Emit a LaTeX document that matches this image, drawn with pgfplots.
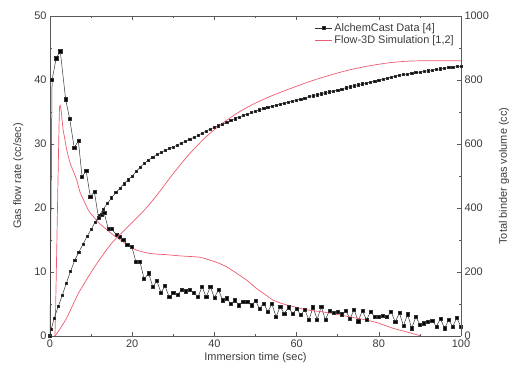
\documentclass[border=0pt]{standalone}
\usepackage{fontspec}
\setmainfont{Liberation Sans}
\usepackage{pgfplots}
\pgfplotsset{compat=1.18}
\definecolor{simred}{RGB}{240,90,110}
\definecolor{axgray}{RGB}{90,90,90}
\definecolor{txtgray}{RGB}{60,60,60}
\begin{document}
\begin{tikzpicture}
\pgfplotsset{
  every axis/.append style={
    scale only axis, width=411bp, height=320bp,
    xmin=0, xmax=100,
    axis line style={axgray, line width=0.6pt},
    tick style={axgray, line width=0.5pt},
    major tick length=4pt, minor tick length=2.5pt,
    tick align=inside,
    /pgf/number format/assume math mode=true,
    /pgf/number format/1000 sep={},
    tick label style={font=\fontsize{11}{13}\selectfont, text=txtgray},
    label style={font=\fontsize{11}{13}\selectfont, text=txtgray},
  }
}
\begin{axis}[
  at={(0,0)}, anchor=south west,
  ymin=0, ymax=50,
  axis y line*=left,
  xtick={0,20,40,60,80,100}, minor xtick={10,30,50,70,90},
  ytick={0,10,20,30,40,50}, minor ytick={5,15,25,35,45},
  xtick pos=both,
  xlabel={Immersion time (sec)},
  ylabel={Gas flow rate (cc/sec)},
  xlabel style={yshift=2pt},
  ylabel style={yshift=4pt},
  legend style={at={(0.995,0.99)}, anchor=north east, draw=none, fill=none,
    font=\fontsize{11}{13}\selectfont, text=txtgray, row sep=-1pt},
  legend cell align=left,
]
\addplot[black!80, line width=0.5pt, mark=square*, mark size=1.6pt, mark options={fill=black}] coordinates {
(0,0) (0.5,40) (1.5,43.4) (2.5,44.5) (3.8,37) (4.8,33.9) (5.9,29.4) (6.9,30.5) (7.8,24.9) (8.8,25.8)
(9.8,21.8) (10.8,22.5) (11.8,18.5) (12.5,19.0) (13.2,19.2) (14.2,16.7) (15.0,16.7) (16.2,15.8) (17,15.5)
(17.8,15.0) (18.8,14.3) (19.9,14.0) (20.9,11.6) (21.9,11.6) (22.9,8.9) (24,9.8) (25,7.7) (26,8.6) (27,6.8)
(28,7.8) (29,6.1) (30,6.7) (31,6.4) (32,7.2) (33,7.0) (34,7.2) (35,6.8) (36,6.1) (37,7.7) (38,6.1) (39,7.7)
(40,6.0) (41,7.2) (42,5.6) (43,5.9) (44,5.0) (45,5.6) (46,4.8) (47,5.4) (48,5.3) (49,4.8) (50,5.5) (51,4.3)
(52,5.1) (53,3.8) (54,5.0) (55,3.0) (56,4.6) (57,3.5) (58,4.5) (59,3.5) (60,4.2) (61,3.3) (62,4.1) (63,2.5)
(64,4.5) (65,2.6) (66,4.6) (67,2.5) (68,4.0) (69,3.6) (70,3.8) (71,3.4) (72,3.9) (73,2.7) (74,4.1) (75,2.3)
(76,4.0) (77,2.5) (78,3.8) (79,3.0) (80,3.0) (81,3.2) (82,3.0) (83,3.8) (84,2.2) (85,3.6) (86,1.6) (87,3.4)
(88,1.2) (89,3.0) (90,1.8) (91,2.0) (92,2.2) (93,2.4) (94,1.5) (95,2.7) (96,1.2) (97,2.5) (98,1.5) (99,2.8) (100,1.4)
};
\addlegendentry{AlchemCast Data [4]}
\addplot[simred, line width=0.7pt, smooth, tension=0.3] coordinates {
(0,0) (1.2,0) (2.3,35.3) (3.2,32.2) (4.1,29) (4.9,27) (6.5,24.4) (7.3,22.5) (9.5,19.5) (12.2,17.5)
(15.4,15.8) (18.7,14.3) (21.1,13.4) (24.3,12.9) (28.4,12.7) (32,12.5) (36.5,12.3) (40.6,11.5) (43,10.8)
(45.4,9.8) (47.9,8.7) (50.3,7.4) (52.5,6.4) (54.3,5.6) (56.8,5.0) (59.2,4.6) (61,4.3) (63.3,4.0) (66,3.8)
(68.9,3.5) (72,3.1) (77,2.5) (80,2.0) (83.5,1.2) (87,0.6) (90,0.05)
};
\addlegendentry{Flow-3D Simulation [1,2]}
\end{axis}
\begin{axis}[
  at={(0,0)}, anchor=south west,
  ymin=0, ymax=1000,
  axis y line*=right, axis x line=none,
  ytick={0,200,400,600,800,1000}, minor ytick={100,300,500,700,900},
]
\addplot[black!80, line width=0.5pt, mark=square*, mark size=1.1pt, mark options={fill=black}] coordinates {
(0,0) (0.3,22) (1,55) (2,92) (3,128) (4,166) (5,202) (6,236) (7,262) (8,286) (9,311) (10,333) (11,356) (12,377)
(13,397) (14,415) (15,432) (16,448) (17,462) (18,476) (19,488) (20,500) (21,515) (22,528) (23,540) (24,550)
(25,559) (26,567) (27,574) (28,580) (29,586) (30,591) (31,597) (32,603) (33,609) (34,615) (35,621) (36,627)
(37,634) (38,641) (39,647) (40,652) (41,657) (42,662) (43,667) (44,674) (45,679) (46,684) (47,689) (48,694)
(49,698) (50,702) (51,707) (52,711) (53,715) (54,719) (55,722) (56,725) (57,728) (58,731) (59,734) (60,737)
(61,741) (62,744) (63,748) (64,751) (65,754) (66,757) (67,760) (68,763) (69,766) (70,769) (71,772) (72,776)
(73,779) (74,782) (75,785) (76,788) (77,791) (78,794) (79,797) (80,800) (81,803) (82,806) (83,809) (84,812)
(85,815) (86,817) (87,819) (88,821) (89,823) (90,825) (91,827) (92,829) (93,831) (94,833) (95,835) (96,837)
(97,839) (98,840) (99,842) (100,843)
};
\addplot[simred, line width=0.7pt, smooth, tension=0.4] coordinates {
(0,0) (1.2,0) (4,55) (6.9,133) (10.9,217) (15,290) (19,342) (23,394) (26,440) (30,508) (34,570) (38,623)
(42,665) (46,700) (50,728) (54,751) (58,771) (62,790) (66,807) (70,822) (74,835) (78,845) (82,853) (86,858)
(90,860) (100,860)
};
\end{axis}
\node[rotate=90, anchor=center, font=\fontsize{11}{13}\selectfont, text=txtgray] at (454bp,160bp) {Total binder gas volume (cc)};
\useasboundingbox (-50bp,-30bp) rectangle (463bp,336bp);
\end{tikzpicture}
\end{document}
